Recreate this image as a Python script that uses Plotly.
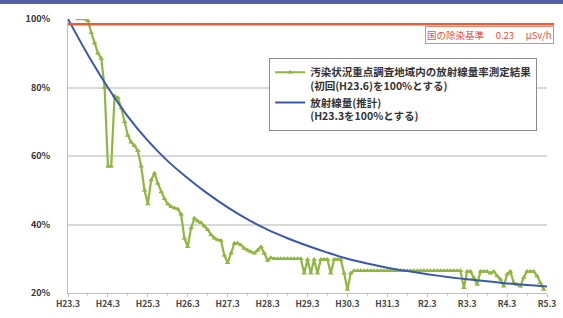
import plotly.graph_objects as go

# ---- data ----
tick_labels = ["H23.3", "H24.3", "H25.3", "H26.3", "H27.3", "H28.3", "H29.3",
               "H30.3", "H31.3", "R2.3", "R3.3", "R4.3", "R5.3"]
tick_months = [0, 12, 24, 36, 48, 60, 72, 84, 96, 108, 120, 132, 144]

# measured dose rate (% of first survey H23.6), months since H23.3
green_months = list(range(3, 144))
green_values = [
    100, 100.3, 100, 99.5, 96, 93, 90, 88.5, 80, 57, 57,          # m3-m13
    77.5, 77, 74, 70, 66, 64, 63, 61.5, 57, 50, 46,              # m14-m24
    53, 55, 52, 49.5, 47.5, 46, 45.2, 44.8, 44.5, 43, 36, 33.5,  # m25-m36
    39, 41.8, 41, 40.5, 39.5, 38.5, 37, 36, 35.5, 35.3, 31, 28.8,  # m37-m48
    31.6, 34.5, 34.5, 34, 33, 32.5, 32, 31.6, 32.5, 33.5, 31.6, 29.5,  # m49-m60
    30.3, 30, 30, 30, 30, 30, 30, 30, 30, 30,                    # m61-m70
    25.8, 29.8, 25.8, 29.8, 25.8, 29.8, 29.8, 29.8, 25.8, 29.8, 29.8, 29.8,  # m71-m82
    25.8, 21, 25.8,                                              # m83-m85
    26.5, 26.5, 26.5, 26.5, 26.5, 26.5, 26.5, 26.5, 26.5, 26.5, 26.5,  # m86-m96
    26.5, 26.5, 26.5, 26.5, 26.5, 26.5, 26.5, 26.5, 26.5, 26.5, 26.5, 26.5,  # m97-m108
    26.5, 26.5, 26.5, 26.5, 26.5, 26.5, 26.5, 26.5, 26.5, 26.5,  # m109-m118
    21.5, 26.3, 26.3, 24.5, 22.5, 26.3, 26.3, 26.3, 25.8, 26.3, 25, 24,  # m119-m130
    22, 25.5, 26.3, 23, 22.5, 22, 24.5, 26.3, 26.3, 26.3, 25, 23, 21,    # m131-m143
]

# estimated dose rate (% of H23.3)
blue_months = [0, 6, 12, 18, 24, 30, 36, 42, 48, 54, 60, 66, 72, 78, 84,
               90, 96, 102, 108, 114, 120, 126, 132, 138, 144]
blue_values = [100, 89.5, 80, 71.5, 64.5, 58.5, 53.5, 49, 45, 41.5, 38.5,
               36, 33.8, 31.8, 30, 28.6, 27.4, 26.4, 25.5, 24.7, 24, 23.4,
               22.8, 22.3, 21.9]

standard_value = 98.5  # national decontamination standard line (0.23 μSv/h)

green_name = "<b>汚染状況重点調査地域内の放射線量率測定結果<br>(初回(H23.6)を100%とする)</b>"
blue_name = "<b>放射線量(推計)<br>(H23.3を100%とする)</b>"
standard_label = "国の除染基準　 0.23　 μSv/h"

GREEN = "#8fb63f"
BLUE = "#3c58a8"
RED = "#e0603a"
FONT = "Noto Sans CJK JP"

fig = go.Figure()

fig.add_trace(go.Scatter(
    x=green_months, y=green_values, mode="lines+markers", name=green_name,
    line=dict(color=GREEN, width=2.2),
    marker=dict(symbol="triangle-up", size=5, color=GREEN),
))
fig.add_trace(go.Scatter(
    x=blue_months, y=blue_values, mode="lines", name=blue_name,
    line=dict(color=BLUE, width=2, shape="spline"),
))

# national standard line
fig.add_shape(type="line", xref="paper", yref="y", x0=0, x1=1.015,
              y0=standard_value, y1=standard_value,
              line=dict(color=RED, width=2.5))
fig.add_annotation(xref="paper", yref="paper", x=1.014, y=0.942,
                   xanchor="right", yanchor="middle", showarrow=False,
                   text=standard_label,
                   font=dict(family=FONT, size=9.5, color="#e8503a"),
                   bordercolor="#e58a7a", borderwidth=1, borderpad=1,
                   bgcolor="white")

# decorative blue band at top
fig.add_shape(type="rect", xref="paper", yref="paper",
              x0=-0.2, x1=1.1, y0=1.055, y1=1.2,
              fillcolor="#5560a8", line=dict(width=0), layer="above")

fig.update_layout(
    width=563, height=318,
    margin=dict(l=68, r=16, t=19, b=25, autoexpand=False),
    paper_bgcolor="white", plot_bgcolor="white",
    font=dict(family=FONT, color="#333333"),
    showlegend=True,
    legend=dict(x=0.42, y=0.858, xanchor="left", yanchor="top",
                bgcolor="white", bordercolor="#8c8c8c", borderwidth=1,
                font=dict(family=FONT, size=10.5, color="#333333"),
                valign="top", tracegroupgap=0, itemwidth=30),
)

fig.update_xaxes(
    range=[0, 144], tickmode="array", tickvals=tick_months,
    ticktext=["<b>" + t + "</b>" for t in tick_labels],
    showgrid=False, showline=True, linecolor="#bfbfbf", linewidth=1,
    ticks="outside", ticklen=3, tickcolor="#bfbfbf",
    minor=dict(dtick=6, tick0=0, ticks="outside", ticklen=2, tickcolor="#d0d0d0"),
    tickfont=dict(family=FONT, size=8.5, color="#444444"),
    zeroline=False, automargin=False,
)
fig.update_yaxes(
    range=[20, 100], tickmode="array", tickvals=[20, 40, 60, 80, 100],
    ticktext=["<b>20%</b>", "<b>40%</b>", "<b>60%</b>", "<b>80%</b>", "<b>100%</b>"],
    showgrid=True, gridcolor="#d9d9d9", gridwidth=1.5,
    showline=True, linecolor="#bfbfbf", linewidth=1,
    ticks="", ticklabelstandoff=15,
    tickfont=dict(family=FONT, size=9, color="#333333"),
    zeroline=False, automargin=False,
)

fig.write_html("out.html",
               config={"displayModeBar": False},
               post_script="document.body.style.margin='0';document.body.style.overflow='hidden';")
